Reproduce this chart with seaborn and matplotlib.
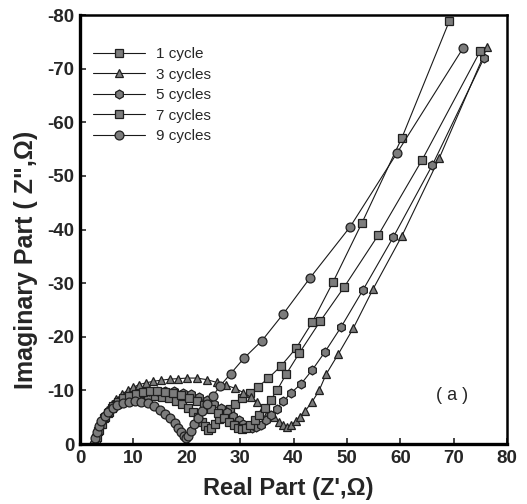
import matplotlib
matplotlib.use("Agg")
import matplotlib.pyplot as plt
import seaborn as sns
import pandas as pd

# ---------------- data ----------------
labels = ["1 cycle", "3 cycles", "5 cycles", "7 cycles", "9 cycles"]

x1 = [2.8, 3.0, 3.4, 3.9, 4.5, 5.2, 6.0, 6.9, 7.9, 9.0, 10.2, 11.4, 12.7, 14.0, 15.3,
      16.6, 17.9, 19.1, 20.2, 21.2, 22.1, 22.9, 23.5, 24.0, 24.6, 25.3, 26.1, 27.0, 28.0, 29.1,
      30.4, 31.8, 33.4, 35.3, 37.6, 40.5, 43.5, 47.4, 52.8, 60.3, 69.2]
y1 = [0, -1.2, -2.5, -3.7, -4.8, -5.8, -6.7, -7.5, -8.1, -8.6, -8.9, -9.1, -9.1, -9.0, -8.8,
      -8.5, -8.1, -7.5, -6.8, -6.0, -5.1, -4.2, -3.3, -2.7, -3.0, -3.8, -4.7, -5.6, -6.5, -7.5,
      -8.5, -9.5, -10.7, -12.3, -14.5, -17.9, -22.7, -30.2, -41.2, -57.1, -78.9]

x3 = [2.7, 2.9, 3.3, 3.8, 4.4, 5.1, 5.9, 6.8, 7.8, 8.9, 10.0, 11.1, 12.3, 13.7, 15.2,
      16.8, 18.4, 20.1, 21.9, 23.8, 25.6, 27.3, 29.0, 30.6, 32.0, 33.2, 34.3, 35.3, 36.3, 37.2,
      38.0, 38.8, 39.6, 40.4, 41.2, 42.2, 43.5, 44.8, 46.1, 48.4, 51.2, 54.9, 60.3, 67.3, 76.3]
y3 = [0, -1.3, -2.7, -4.0, -5.2, -6.4, -7.5, -8.4, -9.3, -10.0, -10.6, -11.1, -11.4, -11.7, -11.9,
      -12.1, -12.2, -12.3, -12.3, -12.0, -11.5, -11.0, -10.4, -9.6, -8.7, -7.8, -6.8, -5.9, -5.0, -4.2,
      -3.5, -3.2, -3.5, -4.3, -5.1, -6.2, -7.9, -10.0, -13.0, -16.8, -21.6, -28.9, -38.8, -53.3, -74.0]

x5 = [2.8, 3.1, 3.5, 4.0, 4.6, 5.3, 6.1, 7.0, 8.0, 9.1, 10.3, 11.6, 13.0, 14.5, 16.0,
      17.6, 19.2, 20.8, 22.3, 23.8, 25.1, 26.4, 27.6, 28.7, 29.7, 30.6, 31.4, 32.2, 33.0, 33.9,
      34.8, 35.8, 36.9, 38.1, 39.6, 41.4, 43.5, 45.9, 48.9, 53.0, 58.7, 66.0, 75.7]
y5 = [0, -1.2, -2.5, -3.7, -4.9, -6.0, -6.9, -7.7, -8.4, -8.9, -9.3, -9.6, -9.8, -9.9, -9.9,
      -9.8, -9.6, -9.3, -8.8, -8.2, -7.5, -6.8, -6.0, -5.2, -4.5, -3.8, -3.3, -3.0, -3.1, -3.6,
      -4.4, -5.4, -6.6, -8.0, -9.6, -11.2, -13.8, -17.2, -21.8, -28.7, -38.6, -52.0, -72.0]

x7 = [2.9, 3.2, 3.6, 4.1, 4.7, 5.4, 6.2, 7.1, 8.1, 9.2, 10.4, 11.7, 13.1, 14.5, 16.0,
      17.5, 19.0, 20.5, 21.9, 23.3, 24.6, 25.8, 26.9, 27.9, 28.8, 29.6, 30.3, 31.0, 31.8, 32.7,
      33.6, 34.6, 35.7, 36.9, 38.6, 41.1, 45.0, 49.5, 55.9, 64.1, 75.0]
y7 = [0, -1.3, -2.6, -3.8, -5.0, -6.0, -7.0, -7.8, -8.5, -9.0, -9.4, -9.7, -9.8, -9.8, -9.7,
      -9.5, -9.1, -8.6, -8.0, -7.3, -6.5, -5.7, -4.9, -4.1, -3.5, -3.0, -2.8, -3.0, -3.6, -4.5,
      -5.5, -6.7, -8.2, -10.0, -13.0, -17.0, -22.9, -29.3, -39.0, -53.0, -73.3]

x9 = [2.6, 2.8, 3.1, 3.5, 4.0, 4.6, 5.3, 6.1, 7.0, 8.0, 9.1, 10.3, 11.5, 12.7, 13.9,
      15.0, 16.0, 16.9, 17.7, 18.4, 19.0, 19.5, 19.9, 20.3, 20.8, 21.4, 22.1, 22.9, 23.8, 24.9,
      26.2, 28.2, 30.7, 34.1, 38.1, 43.1, 50.6, 59.4, 71.8]
y9 = [0, -1.1, -2.2, -3.3, -4.3, -5.2, -6.0, -6.7, -7.2, -7.6, -7.9, -8.0, -7.9, -7.6, -7.1,
      -6.4, -5.6, -4.8, -3.9, -3.0, -2.2, -1.5, -1.1, -1.5, -2.5, -3.7, -4.9, -6.2, -7.5, -9.0,
      -10.8, -13.1, -16.0, -19.3, -24.3, -31.0, -40.5, -54.3, -73.9]

x_ticks = [0, 10, 20, 30, 40, 50, 60, 70, 80]
y_ticks = [0, -10, -20, -30, -40, -50, -60, -70, -80]

# ---------------- build table ----------------
frames = []
for lab, xs, ys in zip(labels, [x1, x3, x5, x7, x9], [y1, y3, y5, y7, y9]):
    frames.append(pd.DataFrame({"x": xs, "y": ys, "series": lab}))
df = pd.concat(frames, ignore_index=True)

sns.set_style("ticks")
plt.rcParams["font.family"] = ["Liberation Sans", "DejaVu Sans"]
plt.rcParams["axes.unicode_minus"] = False

fig = plt.figure(figsize=(5.27, 5.04), dpi=100)
ax = fig.add_axes([0.152, 0.119, 0.810, 0.851])

markers = {"1 cycle": "s", "3 cycles": "^", "5 cycles": "h",
           "7 cycles": "s", "9 cycles": "o"}
palette = {lab: "#1a1a1a" for lab in labels}

sns.lineplot(data=df, x="x", y="y", hue="series", style="series",
             hue_order=labels, style_order=labels,
             palette=palette, markers=markers, dashes=False, sort=False,
             estimator=None, legend=False, ax=ax,
             linewidth=0.8, markersize=6.4, markerfacecolor="#7c7c7c",
             markeredgecolor="#1f1f1f", markeredgewidth=0.9)

handles = ax.lines[:len(labels)]
ax.legend(handles, labels, loc="upper left", bbox_to_anchor=(0.03, 0.925),
          frameon=False, fontsize=11, handlelength=3.4, handletextpad=0.75,
          labelspacing=0.42, borderpad=0, borderaxespad=0)

ax.set_xlim(0, 80)
ax.set_ylim(0, -80)
ax.set_xticks(x_ticks)
ax.set_yticks(y_ticks)
ax.set_xticklabels([str(v) for v in x_ticks])
ax.set_yticklabels([str(v) for v in y_ticks])
ax.tick_params(direction="in", length=4, width=1.2, labelsize=13.5, pad=4)
for lbl in ax.get_xticklabels() + ax.get_yticklabels():
    lbl.set_fontweight("bold")

ax.set_xlabel("Real Part (Z',\u03a9)", fontsize=17, fontweight="bold")
ax.set_ylabel("Imaginary Part ( Z\",\u03a9)", fontsize=18, fontweight="bold")
ax.xaxis.set_label_coords(0.487, -0.078)
ax.yaxis.set_label_coords(-0.098, 0.43)

for side in ["left", "bottom"]:
    ax.spines[side].set_linewidth(2.4)
for side in ["top", "right"]:
    ax.spines[side].set_linewidth(1.8)
for side in ax.spines:
    ax.spines[side].set_color("black")

ax.text(69.7, -9.1, "( a )", fontsize=13, ha="center", va="center")

fig.savefig("out.png", dpi=100)
